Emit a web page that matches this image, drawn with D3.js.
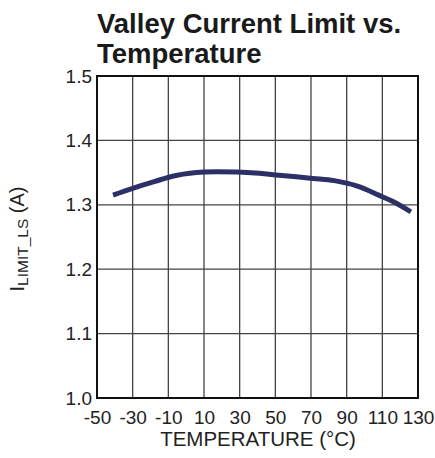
<!DOCTYPE html>
<html><head><meta charset="utf-8">
<script src="https://cdn.jsdelivr.net/npm/d3@7"></script>
<style>body{margin:0;background:#fff}svg{display:block}</style>
</head><body>
<svg id="c" width="435" height="458"></svg>
<script>
const temps = [-41, -30, -18, -5, 10, 28, 41, 52, 71, 83, 96, 108, 116, 126];
const ilimit = [1.315, 1.3255, 1.336, 1.346, 1.351, 1.351, 1.349, 1.346, 1.341, 1.3375, 1.329, 1.315, 1.305, 1.289];
const xTicks = [-50, -30, -10, 10, 30, 50, 70, 90, 110, 130];
const yTicks = [1.0, 1.1, 1.2, 1.3, 1.4, 1.5];

const svg = d3.select("#c");
const L = 97, R = 418, T = 76, B = 398;
const x = d3.scaleLinear().domain([-50, 130]).range([L, R]);
const y = d3.scaleLinear().domain([1.0, 1.5]).range([B, T]);
const font = "Liberation Sans, Arial, sans-serif";

// grid
svg.append("g").selectAll("line").data(xTicks.slice(1, -1)).join("line")
  .attr("x1", d => x(d)).attr("x2", d => x(d)).attr("y1", T).attr("y2", B)
  .attr("stroke", "#444").attr("stroke-width", 1.3);
svg.append("g").selectAll("line").data(yTicks.slice(1, -1)).join("line")
  .attr("y1", d => y(d)).attr("y2", d => y(d)).attr("x1", L).attr("x2", R)
  .attr("stroke", "#444").attr("stroke-width", 1.3);
svg.append("rect").attr("x", L).attr("y", T).attr("width", R - L).attr("height", B - T)
  .attr("fill", "none").attr("stroke", "#111").attr("stroke-width", 2);

// axes labels via d3 axes
const xAxis = svg.append("g").attr("transform", `translate(0,${B})`)
  .call(d3.axisBottom(x).tickValues(xTicks).tickSize(0).tickPadding(13).tickFormat(d => String(d)));
xAxis.select(".domain").remove();
xAxis.selectAll("text").attr("font-family", font).attr("font-size", 19).attr("fill", "#222");

const yAxis = svg.append("g").attr("transform", `translate(${L},0)`)
  .call(d3.axisLeft(y).tickValues(yTicks).tickSize(0).tickPadding(5).tickFormat(d3.format(".1f")));
yAxis.select(".domain").remove();
yAxis.selectAll("text").attr("font-family", font).attr("font-size", 19).attr("fill", "#222");

// curve
svg.append("path").datum(temps.map((t, i) => [t, ilimit[i]]))
  .attr("d", d3.line().x(d => x(d[0])).y(d => y(d[1])).curve(d3.curveCatmullRom))
  .attr("fill", "none").attr("stroke", "#2c3066").attr("stroke-width", 5);

// title
const title = svg.append("text").attr("font-family", font).attr("font-weight", "bold")
  .attr("font-size", 27.5).attr("fill", "#1a1a1a");
title.append("tspan").attr("x", 97).attr("y", 33).text("Valley Current Limit vs.");
title.append("tspan").attr("x", 97).attr("y", 63).text("Temperature");

// x title
svg.append("text").attr("x", 258).attr("y", 446).attr("text-anchor", "middle")
  .attr("font-family", font).attr("font-size", 20.5).attr("fill", "#222").text("TEMPERATURE (°C)");

// y title
const yt = svg.append("text").attr("transform", `translate(24,239) rotate(-90)`)
  .attr("text-anchor", "middle").attr("font-family", font).attr("font-size", 20).attr("fill", "#222");
yt.append("tspan").text("I");
yt.append("tspan").attr("font-size", 15.5).attr("dy", 4).text("LIMIT_LS");
yt.append("tspan").attr("dy", -4).text(" (A)");
</script>
</body></html>
